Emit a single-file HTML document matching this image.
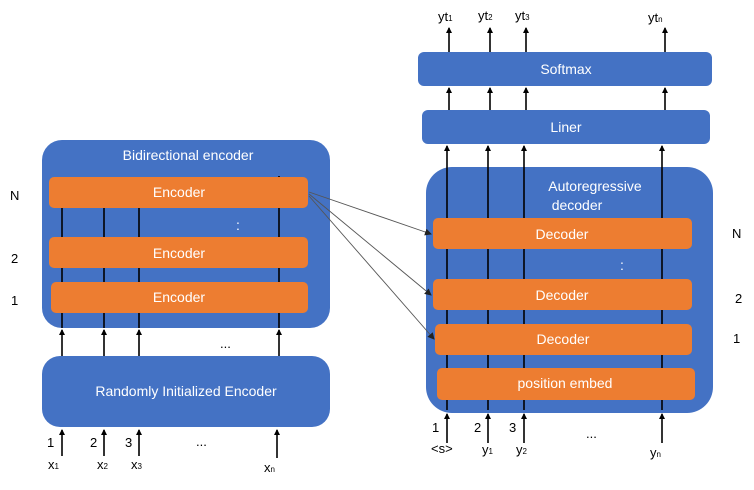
<!DOCTYPE html>
<html><head><meta charset="utf-8"><style>
body{margin:0;background:#fff}
text{font-family:"Liberation Sans",sans-serif}
.w{fill:#fff;font-size:14px;text-anchor:middle}
.k{fill:#000;font-size:13px}
</style></head><body>
<svg width="754" height="485" viewBox="0 0 754 485" xmlns="http://www.w3.org/2000/svg">
<defs><marker id="a" markerWidth="6" markerHeight="6" refX="5" refY="3" orient="auto" markerUnits="userSpaceOnUse"><path d="M0,0 L6,3 L0,6z" fill="#000"/></marker>
<marker id="g" markerWidth="7" markerHeight="7" refX="6" refY="3.5" orient="auto" markerUnits="userSpaceOnUse"><path d="M0,0 L7,3.5 L0,7z" fill="#222"/></marker></defs>
<!-- left -->
<rect x="42" y="140" width="288" height="188" rx="20" fill="#4472C4"/>
<text class="w" x="188" y="160">Bidirectional encoder</text>
<g stroke="#000" stroke-width="1.6">
<line x1="62" y1="208" x2="62" y2="328"/><line x1="104" y1="208" x2="104" y2="328"/><line x1="139" y1="208" x2="139" y2="328"/><line x1="279" y1="176" x2="279" y2="328"/>
<line x1="62" y1="356" x2="62" y2="330" marker-end="url(#a)"/><line x1="104" y1="356" x2="104" y2="330" marker-end="url(#a)"/><line x1="139" y1="356" x2="139" y2="330" marker-end="url(#a)"/><line x1="279" y1="356" x2="279" y2="330" marker-end="url(#a)"/>
<line x1="62" y1="456" x2="62" y2="430" marker-end="url(#a)"/><line x1="104" y1="456" x2="104" y2="430" marker-end="url(#a)"/><line x1="139" y1="456" x2="139" y2="430" marker-end="url(#a)"/><line x1="277" y1="458" x2="277" y2="430" marker-end="url(#a)"/>
</g>
<rect x="49" y="177" width="259" height="31" rx="5" fill="#ED7D31"/>
<rect x="49" y="237" width="259" height="31" rx="5" fill="#ED7D31"/>
<rect x="51" y="282" width="257" height="31" rx="5" fill="#ED7D31"/>
<text class="w" x="179" y="197">Encoder</text>
<text class="w" x="179" y="258">Encoder</text>
<text class="w" x="179" y="302">Encoder</text>
<text class="w" x="238" y="230">:</text>
<rect x="42" y="356" width="288" height="71" rx="18" fill="#4472C4"/>
<text class="w" x="186" y="396">Randomly Initialized Encoder</text>
<text class="k" x="220" y="348">...</text>
<text class="k" x="10" y="200">N</text><text class="k" x="11" y="263">2</text><text class="k" x="11" y="305">1</text>
<text class="k" x="47" y="447">1</text><text class="k" x="90" y="447">2</text><text class="k" x="125" y="447">3</text>
<text class="k" x="196" y="446">...</text>
<text class="k" x="48" y="469" font-size="12">x<tspan font-size="8">1</tspan></text>
<text class="k" x="97" y="469" font-size="12">x<tspan font-size="8">2</tspan></text>
<text class="k" x="131" y="469" font-size="12">x<tspan font-size="8">3</tspan></text>
<text class="k" x="264" y="472" font-size="12">x<tspan font-size="8">n</tspan></text>
<!-- right -->
<rect x="418" y="52" width="294" height="34" rx="6" fill="#4472C4"/>
<text class="w" x="566" y="74">Softmax</text>
<rect x="422" y="110" width="288" height="34" rx="6" fill="#4472C4"/>
<text class="w" x="566" y="132">Liner</text>
<rect x="426" y="167" width="287" height="246" rx="26" fill="#4472C4"/>
<text class="w" x="595" y="191">Autoregressive</text>
<text class="w" x="577" y="210">decoder</text>
<g stroke="#000" stroke-width="1.6">
<line x1="449" y1="52" x2="449" y2="28" marker-end="url(#a)"/><line x1="490" y1="52" x2="490" y2="28" marker-end="url(#a)"/><line x1="526" y1="52" x2="526" y2="28" marker-end="url(#a)"/><line x1="665" y1="52" x2="665" y2="28" marker-end="url(#a)"/>
<line x1="449" y1="110" x2="449" y2="88" marker-end="url(#a)"/><line x1="490" y1="110" x2="490" y2="88" marker-end="url(#a)"/><line x1="526" y1="110" x2="526" y2="88" marker-end="url(#a)"/><line x1="665" y1="110" x2="665" y2="88" marker-end="url(#a)"/>
<line x1="447" y1="410" x2="447" y2="146" marker-end="url(#a)"/><line x1="488" y1="410" x2="488" y2="146" marker-end="url(#a)"/><line x1="524" y1="410" x2="524" y2="146" marker-end="url(#a)"/><line x1="662" y1="410" x2="662" y2="146" marker-end="url(#a)"/>
<line x1="447" y1="443" x2="447" y2="414" marker-end="url(#a)"/><line x1="488" y1="443" x2="488" y2="414" marker-end="url(#a)"/><line x1="524" y1="443" x2="524" y2="414" marker-end="url(#a)"/><line x1="662" y1="443" x2="662" y2="414" marker-end="url(#a)"/>
</g>
<rect x="433" y="218" width="259" height="31" rx="5" fill="#ED7D31"/>
<rect x="433" y="279" width="259" height="31" rx="5" fill="#ED7D31"/>
<rect x="435" y="324" width="257" height="31" rx="5" fill="#ED7D31"/>
<rect x="437" y="368" width="258" height="32" rx="5" fill="#ED7D31"/>
<text class="w" x="562" y="239">Decoder</text>
<text class="w" x="562" y="300">Decoder</text>
<text class="w" x="563" y="344">Decoder</text>
<text class="w" x="565" y="388">position embed</text>
<text class="w" x="622" y="270">:</text>
<g stroke="#555" stroke-width="0.9" fill="none">
<line x1="309" y1="192" x2="431" y2="234" marker-end="url(#g)"/>
<line x1="309" y1="194" x2="431" y2="295" marker-end="url(#g)"/>
<line x1="309" y1="196" x2="434" y2="339" marker-end="url(#g)"/>
</g>
<text class="k" x="732" y="238">N</text><text class="k" x="735" y="303">2</text><text class="k" x="733" y="343">1</text>
<text class="k" x="438" y="21" font-size="12">yt<tspan font-size="8">1</tspan></text>
<text class="k" x="478" y="20" font-size="12">yt<tspan font-size="8">2</tspan></text>
<text class="k" x="515" y="20" font-size="12">yt<tspan font-size="8">3</tspan></text>
<text class="k" x="648" y="22" font-size="12">yt<tspan font-size="8">n</tspan></text>
<text class="k" x="432" y="432">1</text><text class="k" x="474" y="432">2</text><text class="k" x="509" y="432">3</text>
<text class="k" x="586" y="438">...</text>
<text class="k" x="431" y="453" font-size="11">&lt;s&gt;</text>
<text class="k" x="482" y="454" font-size="12">y<tspan font-size="8">1</tspan></text>
<text class="k" x="516" y="454" font-size="12">y<tspan font-size="8">2</tspan></text>
<text class="k" x="650" y="457" font-size="12">y<tspan font-size="8">n</tspan></text>
</svg>
</body></html>
